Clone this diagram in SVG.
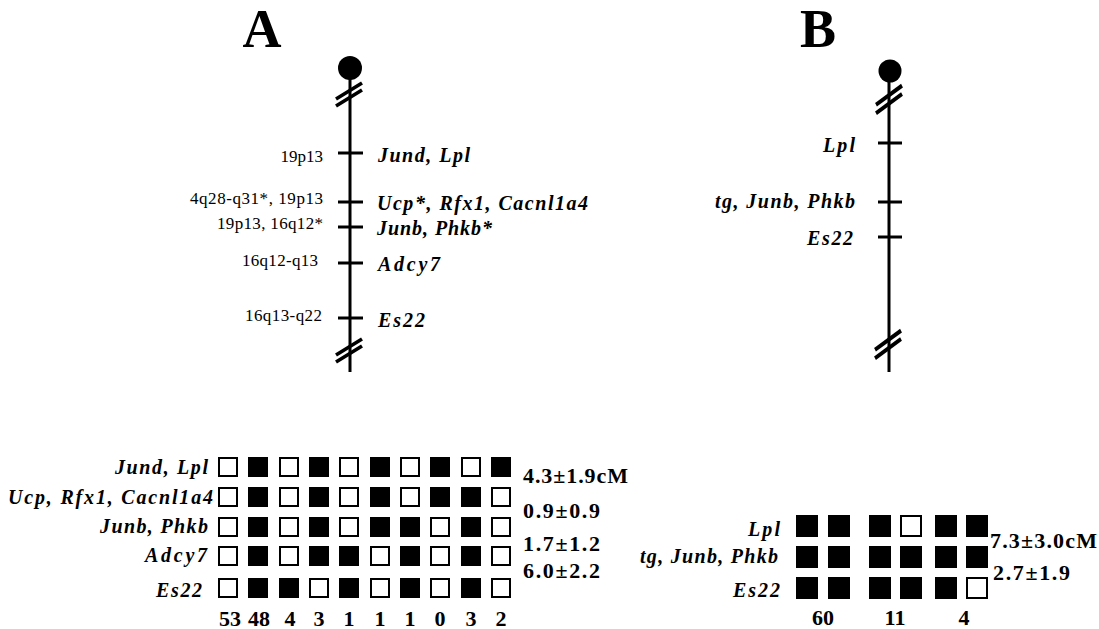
<svg xmlns="http://www.w3.org/2000/svg" xmlns:xlink="http://www.w3.org/1999/xlink" width="1099" height="629" viewBox="0 0 1099 629">
<style>
.title{font-family:"Liberation Serif",serif;font-weight:bold;font-size:54px;fill:#000;text-anchor:middle}
.gene{font-family:"Liberation Serif",serif;font-weight:bold;font-style:italic;font-size:20px;fill:#000}
.band{font-family:"Liberation Serif",serif;font-size:17px;fill:#000}
.num{font-family:"Liberation Serif",serif;font-weight:bold;font-size:22px;fill:#000}
.cnt{font-family:"Liberation Serif",serif;font-weight:bold;font-size:22px;fill:#000;text-anchor:middle}
.chr{stroke:#000;stroke-width:3;fill:none}
.tick{stroke:#000;stroke-width:3}
.on{fill:#000}
.off{fill:#fff;stroke:#000;stroke-width:2}
</style>
<defs>
<g id="brk"><line x1="-13" y1="4" x2="13" y2="-12" stroke="#000" stroke-width="3.5"/><line x1="-13" y1="11" x2="13" y2="-5" stroke="#000" stroke-width="3.5"/></g>
<rect id="bA" width="20" height="20" class="on"/>
<rect id="wA" x="1" y="1" width="18" height="18" class="off"/>
<rect id="bB" width="22" height="22" class="on"/>
<rect id="wB" x="1" y="1" width="20" height="20" class="off"/>
</defs>
<rect width="1099" height="629" fill="#fff"/>

<g id="titleA"><text class="title" x="262" y="47">A</text></g>
<g id="titleB"><text class="title" x="818" y="47">B</text></g>

<g id="chromosomeA">
<line class="chr" x1="350" y1="68" x2="350" y2="372"/>
<circle cx="350" cy="68" r="12" fill="#000"/>
<use xlink:href="#brk" transform="translate(349,95)"/>
<use xlink:href="#brk" transform="translate(349,351)"/>
<line class="tick" x1="338" y1="153" x2="363" y2="153"/>
<line class="tick" x1="338" y1="202" x2="363" y2="202"/>
<line class="tick" x1="338" y1="227" x2="363" y2="227"/>
<line class="tick" x1="338" y1="263" x2="363" y2="263"/>
<line class="tick" x1="338" y1="318" x2="363" y2="318"/>
<text class="band" x="323" y="162" text-anchor="end">19p13</text>
<text class="band" x="190" y="204" textLength="133" lengthAdjust="spacing">4q28-q31*, 19p13</text>
<text class="band" x="217" y="229" textLength="106" lengthAdjust="spacing">19p13, 16q12*</text>
<text class="band" x="242" y="266" textLength="76" lengthAdjust="spacing">16q12-q13</text>
<text class="band" x="245" y="321" textLength="77" lengthAdjust="spacing">16q13-q22</text>
<text class="gene" x="378" y="162" textLength="92" lengthAdjust="spacing">Jund, Lpl</text>
<text class="gene" x="377" y="210" textLength="211" lengthAdjust="spacing">Ucp*, Rfx1, Cacnl1a4</text>
<text class="gene" x="377" y="235" textLength="115" lengthAdjust="spacing">Junb, Phkb*</text>
<text class="gene" x="378" y="271" textLength="62" lengthAdjust="spacing">Adcy7</text>
<text class="gene" x="378" y="327" textLength="47" lengthAdjust="spacing">Es22</text>
</g>

<g id="chromosomeB">
<line class="chr" x1="889" y1="71" x2="889" y2="372"/>
<circle cx="890" cy="71" r="11.5" fill="#000"/>
<use xlink:href="#brk" transform="translate(889,100) scale(1,1.2)"/>
<use xlink:href="#brk" transform="translate(888,345) scale(1,1.2)"/>
<line class="tick" x1="878" y1="143" x2="902" y2="143"/>
<line class="tick" x1="878" y1="202" x2="902" y2="202"/>
<line class="tick" x1="878" y1="237" x2="902" y2="237"/>
<text class="gene" x="823" y="152" textLength="32" lengthAdjust="spacing">Lpl</text>
<text class="gene" x="715" y="208" textLength="140" lengthAdjust="spacing">tg, Junb, Phkb</text>
<text class="gene" x="807" y="245" textLength="46" lengthAdjust="spacing">Es22</text>
</g>

<g id="haplotypesA">
<text class="gene" x="115" y="474" textLength="93" lengthAdjust="spacing">Jund, Lpl</text>
<text class="gene" x="8" y="504" textLength="205" lengthAdjust="spacing">Ucp, Rfx1, Cacnl1a4</text>
<text class="gene" x="100" y="533" textLength="108" lengthAdjust="spacing">Junb, Phkb</text>
<text class="gene" x="145" y="562" textLength="62" lengthAdjust="spacing">Adcy7</text>
<text class="gene" x="156" y="597" textLength="46" lengthAdjust="spacing">Es22</text>
<g transform="translate(0,457)">
<use xlink:href="#wA" x="218"/><use xlink:href="#bA" x="248"/><use xlink:href="#wA" x="279"/><use xlink:href="#bA" x="309"/><use xlink:href="#wA" x="339"/><use xlink:href="#bA" x="370"/><use xlink:href="#wA" x="400"/><use xlink:href="#bA" x="430"/><use xlink:href="#wA" x="461"/><use xlink:href="#bA" x="491"/>
</g>
<g transform="translate(0,487)">
<use xlink:href="#wA" x="218"/><use xlink:href="#bA" x="248"/><use xlink:href="#wA" x="279"/><use xlink:href="#bA" x="309"/><use xlink:href="#wA" x="339"/><use xlink:href="#bA" x="370"/><use xlink:href="#wA" x="400"/><use xlink:href="#bA" x="430"/><use xlink:href="#bA" x="461"/><use xlink:href="#wA" x="491"/>
</g>
<g transform="translate(0,517)">
<use xlink:href="#wA" x="218"/><use xlink:href="#bA" x="248"/><use xlink:href="#wA" x="279"/><use xlink:href="#bA" x="309"/><use xlink:href="#wA" x="339"/><use xlink:href="#bA" x="370"/><use xlink:href="#bA" x="400"/><use xlink:href="#wA" x="430"/><use xlink:href="#bA" x="461"/><use xlink:href="#wA" x="491"/>
</g>
<g transform="translate(0,546)">
<use xlink:href="#wA" x="218"/><use xlink:href="#bA" x="248"/><use xlink:href="#wA" x="279"/><use xlink:href="#bA" x="309"/><use xlink:href="#bA" x="339"/><use xlink:href="#wA" x="370"/><use xlink:href="#bA" x="400"/><use xlink:href="#wA" x="430"/><use xlink:href="#bA" x="461"/><use xlink:href="#wA" x="491"/>
</g>
<g transform="translate(0,578)">
<use xlink:href="#wA" x="218"/><use xlink:href="#bA" x="248"/><use xlink:href="#bA" x="279"/><use xlink:href="#wA" x="309"/><use xlink:href="#bA" x="339"/><use xlink:href="#wA" x="370"/><use xlink:href="#bA" x="400"/><use xlink:href="#wA" x="430"/><use xlink:href="#bA" x="461"/><use xlink:href="#wA" x="491"/>
</g>
<text class="cnt" y="626"><tspan x="230">53</tspan><tspan x="259">48</tspan><tspan x="290">4</tspan><tspan x="319">3</tspan><tspan x="349">1</tspan><tspan x="380">1</tspan><tspan x="410">1</tspan><tspan x="440">0</tspan><tspan x="471">3</tspan><tspan x="501">2</tspan></text>
<text class="num" x="523" y="483" textLength="105" lengthAdjust="spacing">4.3±1.9cM</text>
<text class="num" x="523" y="518" textLength="77" lengthAdjust="spacing">0.9±0.9</text>
<text class="num" x="523" y="551" textLength="77" lengthAdjust="spacing">1.7±1.2</text>
<text class="num" x="523" y="578" textLength="77" lengthAdjust="spacing">6.0±2.2</text>
</g>

<g id="haplotypesB">
<text class="gene" x="748" y="536" textLength="32" lengthAdjust="spacing">Lpl</text>
<text class="gene" x="640" y="563" textLength="138" lengthAdjust="spacing">tg, Junb, Phkb</text>
<text class="gene" x="733" y="597" textLength="47" lengthAdjust="spacing">Es22</text>
<g transform="translate(0,515)">
<use xlink:href="#bB" x="796"/><use xlink:href="#bB" x="828"/><use xlink:href="#bB" x="869"/><use xlink:href="#wB" x="900"/><use xlink:href="#bB" x="935"/><use xlink:href="#bB" x="966"/>
</g>
<g transform="translate(0,546)">
<use xlink:href="#bB" x="796"/><use xlink:href="#bB" x="828"/><use xlink:href="#bB" x="869"/><use xlink:href="#bB" x="900"/><use xlink:href="#bB" x="935"/><use xlink:href="#bB" x="966"/>
</g>
<g transform="translate(0,577)">
<use xlink:href="#bB" x="796"/><use xlink:href="#bB" x="828"/><use xlink:href="#bB" x="869"/><use xlink:href="#bB" x="900"/><use xlink:href="#bB" x="935"/><use xlink:href="#wB" x="966"/>
</g>
<text class="cnt" y="625"><tspan x="823">60</tspan><tspan x="895">11</tspan><tspan x="964">4</tspan></text>
<text class="num" x="990" y="548" textLength="107" lengthAdjust="spacing">7.3±3.0cM</text>
<text class="num" x="993" y="580" textLength="77" lengthAdjust="spacing">2.7±1.9</text>
</g>
</svg>
